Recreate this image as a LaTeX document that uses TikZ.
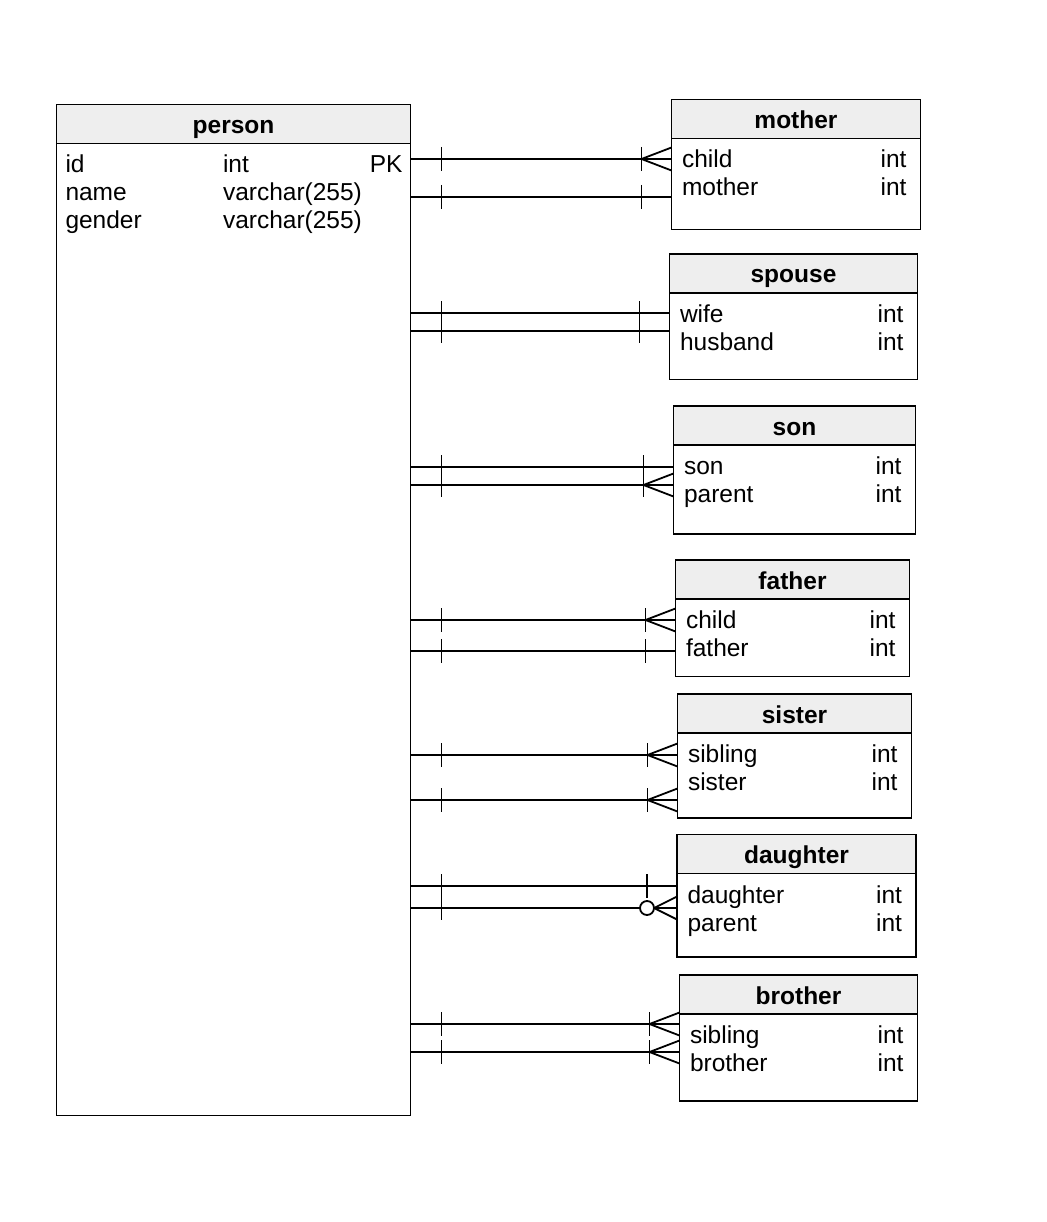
\documentclass[tikz,border=0pt]{standalone}
\usepackage{fontspec}
\setmainfont{Liberation Sans}
\usetikzlibrary{calc}
\definecolor{hdrgray}{HTML}{EEEEEE}
\tikzset{
  every node/.style={font=\fontsize{24.5}{28}\selectfont, inner sep=0pt, outer sep=0pt},
  ebox/.style={draw=black, line width=1.8pt, fill=white, anchor=north west, inner sep=0pt, outer sep=0pt},
  ehead/.style={draw=black, line width=1.8pt, fill=hdrgray, anchor=north west, minimum height=39pt, inner sep=0pt, outer sep=0pt},
  etitle/.style={anchor=base, font=\fontsize{24.5}{28}\selectfont\bfseries},
  ftext/.style={anchor=base west},
  ttext/.style={anchor=base east},
  rel/.style={draw=black, line width=1.8pt},
}
% #1 name, #2 L, #3 T, #4 R, #5 B, #6 title, #7 field1, #8 field2
\newcommand\entity[8]{%
  \node[ebox, minimum width={(#4-#2)*1pt}, minimum height={(#5-#3)*1pt}] (#1) at (#2,#3) {};
  \node[ehead, minimum width={(#4-#2)*1pt}] (#1-h) at (#2,#3) {};
  \node[etitle] (#1-t) at ({(#2+#4)/2},#3+29) {#6};
  \node[ftext] (#1-fa) at (#2+10.5,#3+68.5) {#7};
  \node[ttext] (#1-ta) at (#4-14,#3+68.5) {int};
  \node[ftext] (#1-fb) at (#2+10.5,#3+96.5) {#8};
  \node[ttext] (#1-tb) at (#4-14,#3+96.5) {int};
}
% #1 table, #2 y, #3 tag
\newcommand\relline[3]{%
  \draw[rel] (person.east |- 0,#2) coordinate (#3a) -- (#1.west |- 0,#2) coordinate (#3b);
  \draw[rel] ($(#3a)+(31,-12)$) -- ($(#3a)+(31,12)$);
}
\newcommand\rtick[1]{%
  \draw[rel] ($(#1b)+(-30,-12)$) -- ($(#1b)+(-30,12)$);
}
\newcommand\rcrow[1]{%
  \draw[rel] ($(#1b)+(0,-11.5)$) -- ($(#1b)+(-30,0)$) -- ($(#1b)+(0,11.5)$);
}
\begin{document}
\begin{tikzpicture}[x=1pt,y=-1pt]
\fill[white] (0,0) rectangle (1046,1222);
\useasboundingbox (0,0) rectangle (1046,1222);

% person table
\node[ebox, minimum width=354pt, minimum height=1011pt] (person) at (56.5,104.5) {};
\node[ehead, minimum width=354pt] (person-h) at (56.5,104.5) {};
\node[etitle] (person-t) at (233.5,133.5) {person};
\node[ftext] (p-id) at (65.5,173) {id};
\node[ftext] (p-idt) at (223,173) {int};
\node[ttext] (p-pk) at (402.5,173) {PK};
\node[ftext] (p-name) at (65.5,201) {name};
\node[ftext] (p-namet) at (223,201) {varchar(255)};
\node[ftext] (p-gender) at (65.5,229) {gender};
\node[ftext] (p-gendert) at (223,229) {varchar(255)};

% other tables
\entity{mother}{671.5}{99.5}{920.5}{229.5}{mother}{child}{mother}
\entity{spouse}{669.5}{254}{917.5}{379.5}{spouse}{wife}{husband}
\entity{son}{673.5}{406}{915.5}{534}{son}{son}{parent}
\entity{father}{675.5}{560}{909.5}{676.5}{father}{child}{father}
\entity{sister}{677.5}{694}{911.5}{818}{sister}{sibling}{sister}
\entity{daughter}{677}{834.5}{916}{957}{daughter}{daughter}{parent}
\entity{brother}{679.5}{975}{917.5}{1101}{brother}{sibling}{brother}

% mother
\relline{mother}{159}{ma}\rtick{ma}\rcrow{ma}
\relline{mother}{197}{mb}\rtick{mb}
% spouse
\relline{spouse}{313}{sa}\rtick{sa}
\relline{spouse}{331}{sb}\rtick{sb}
% son
\relline{son}{467}{na}\rtick{na}
\relline{son}{485}{nb}\rtick{nb}\rcrow{nb}
% father
\relline{father}{620}{fa}\rtick{fa}\rcrow{fa}
\relline{father}{651}{fb}\rtick{fb}
% sister
\relline{sister}{755}{ia}\rtick{ia}\rcrow{ia}
\relline{sister}{800}{ib}\rtick{ib}\rcrow{ib}
% daughter
\relline{daughter}{886}{da}\rtick{da}
\relline{daughter}{908}{db}
\draw[rel] ($(dbb)+(0,-11.5)$) -- ($(dbb)+(-23,0)$) -- ($(dbb)+(0,11.5)$);
\draw[rel, fill=white] ($(dbb)+(-30,0)$) circle (7pt);
% brother
\relline{brother}{1024}{ba}\rtick{ba}\rcrow{ba}
\relline{brother}{1052}{bb}\rtick{bb}\rcrow{bb}
\end{tikzpicture}
\end{document}
